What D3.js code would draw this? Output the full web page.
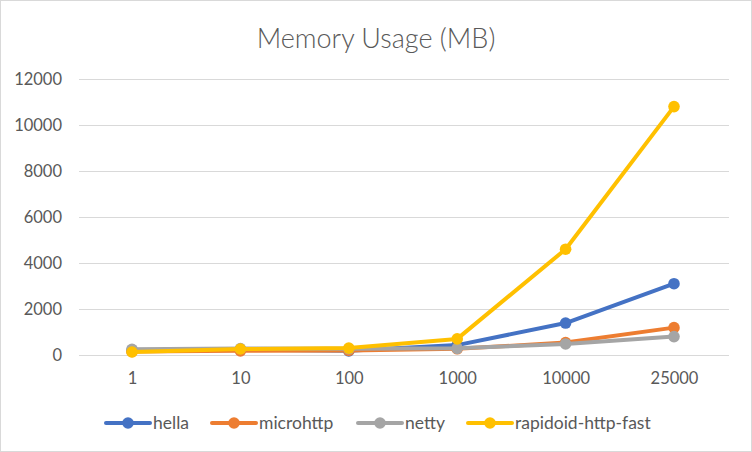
<!DOCTYPE html>
<html><head><meta charset="utf-8">
<script src="https://cdn.jsdelivr.net/npm/d3@7"></script>
<style>
html,body{margin:0;padding:0;background:#fff;}
svg{display:block;}
text{font-family:Lato,"Open Sans",sans-serif;fill:#595959;}
</style></head>
<body>
<script>
const categories = ["1","10","100","1000","10000","25000"];
const seriesNames = ["hella","microhttp","netty","rapidoid-http-fast"];
const hella = [200,230,180,430,1390,3100];
const microhttp = [150,180,200,270,540,1190];
const netty = [250,280,270,290,480,800];
const rapidoid = [130,260,300,700,4600,10800];
const colors = ["#4472C4","#ED7D31","#A5A5A5","#FFC000"];
const yTicks = [0,2000,4000,6000,8000,10000,12000];

const W=752,H=452;
const svg=d3.select("body").append("svg").attr("width",W).attr("height",H);
svg.append("rect").attr("x",0.5).attr("y",0.5).attr("width",W-1).attr("height",H-1)
  .attr("fill","#fff").attr("stroke","#d9d9d9").attr("stroke-width",1);

svg.append("text").attr("x",376).attr("y",48).attr("text-anchor","middle")
  .style("font-size","27px").style("font-weight","300").text("Memory Usage (MB)");

const x=d3.scalePoint().domain(categories).range([132,674]);
const y=d3.scaleLinear().domain([0,12000]).range([355,79]);

const gy=svg.append("g").attr("transform","translate(79,0)")
  .call(d3.axisLeft(y).tickValues(yTicks).tickSize(-650).tickFormat(d3.format("d")).tickPadding(17));
gy.select(".domain").remove();
gy.selectAll("line").attr("stroke","#d9d9d9").attr("stroke-width",1);
gy.selectAll("text").style("font-size","16.5px").style("fill","#595959").style("font-family","Lato,sans-serif");

const gx=svg.append("g").attr("transform","translate(0,355)")
  .call(d3.axisBottom(x).tickSize(0).tickPadding(17));
gx.select(".domain").remove();
gx.selectAll("text").style("font-size","16.5px").style("fill","#595959").style("font-family","Lato,sans-serif");

const data=[hella,microhttp,netty,rapidoid];
const line=d3.line().x((d,i)=>x(categories[i])).y(d=>y(d));
data.forEach((s,k)=>{
  const g=svg.append("g");
  g.append("path").datum(s).attr("d",line).attr("fill","none")
    .attr("stroke",colors[k]).attr("stroke-width",4).attr("stroke-linejoin","round").attr("stroke-linecap","round");
  g.selectAll("circle").data(s).join("circle")
    .attr("cx",(d,i)=>x(categories[i])).attr("cy",d=>y(d)).attr("r",5.8).attr("fill",colors[k]);
});

const legX=[106,212,358,468];
const lg=svg.append("g");
seriesNames.forEach((n,k)=>{
  const gg=lg.append("g").attr("transform",`translate(${legX[k]},423)`);
  gg.append("line").attr("x1",0).attr("x2",44).attr("stroke",colors[k]).attr("stroke-width",4).attr("stroke-linecap","round");
  gg.append("circle").attr("cx",22).attr("r",5.8).attr("fill",colors[k]);
  gg.append("text").attr("x",47).attr("dy","0.35em").style("font-size","17.5px").text(n);
});
</script>
</body></html>
